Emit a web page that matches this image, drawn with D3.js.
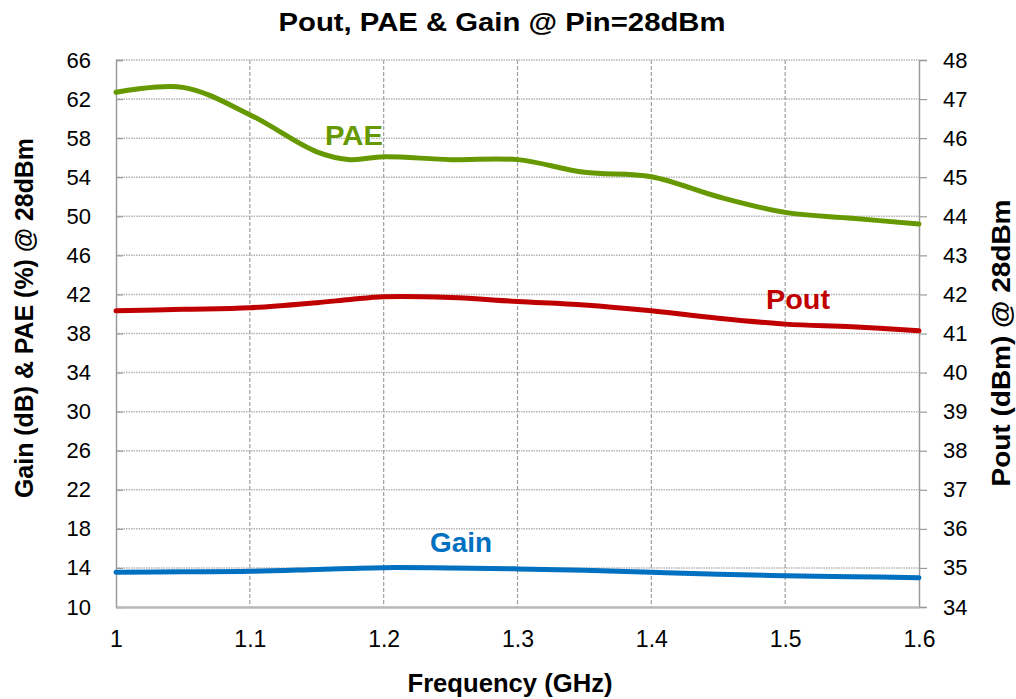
<!DOCTYPE html>
<html>
<head>
<meta charset="utf-8">
<style>
  body { margin: 0; background: #fff; }
  text { font-family: "Liberation Sans", Arial, Helvetica, sans-serif; }
</style>
<script src="https://cdnjs.cloudflare.com/ajax/libs/d3/7.8.5/d3.min.js"></script>
</head>
<body>
<svg id="chart" width="1016" height="699"></svg>
<script>
// frequency points (GHz)
let freq = [1.0, 1.05, 1.1, 1.15, 1.175, 1.2, 1.25, 1.3, 1.35, 1.4, 1.45, 1.5, 1.55, 1.6];
// PAE (%) - left axis
let pae  = [62.7, 63.2, 60.4, 56.6, 55.8, 56.1, 55.8, 55.8, 54.5, 54.05, 52.0, 50.4, 49.8, 49.2];
// Gain (dB) - left axis
let gain = [13.55, 13.6, 13.65, 13.85, 13.95, 14.03, 14.0, 13.9, 13.75, 13.55, 13.35, 13.2, 13.1, 13.0];
// Pout (dBm) - right axis
let pout = [41.58, 41.62, 41.66, 41.79, 41.87, 41.94, 41.92, 41.82, 41.73, 41.58, 41.39, 41.24, 41.17, 41.07];

let xTicks = [1.0, 1.1, 1.2, 1.3, 1.4, 1.5, 1.6];
let leftTicks = d3.range(10, 67, 4);
let rightTicks = d3.range(34, 49, 1);

let x0 = 116, x1 = 919, yTop = 60, yBot = 607;

let svg = d3.select("#chart");

let x = d3.scaleLinear().domain([1.0, 1.6]).range([x0, x1]);
let yL = d3.scaleLinear().domain([10, 66]).range([yBot, yTop]);
let yR = d3.scaleLinear().domain([34, 48]).range([yBot, yTop]);

// grid
svg.append("g").selectAll("line")
  .data(leftTicks.filter(d => d > 10))
  .join("line")
    .attr("x1", x0).attr("x2", x1)
    .attr("y1", d => yL(d)).attr("y2", d => yL(d))
    .attr("stroke", "#b4b4b4")
    .attr("stroke-width", 1.5)
    .attr("stroke-dasharray", "1.5,1");

svg.append("g").selectAll("line")
  .data(xTicks.filter(d => d > 1.0 && d < 1.6))
  .join("line")
    .attr("x1", d => x(d)).attr("x2", d => x(d))
    .attr("y1", yTop).attr("y2", yBot)
    .attr("stroke", "#a0a0a0")
    .attr("stroke-width", 1.2)
    .attr("stroke-dasharray", "4,2");

// axes
let gl = svg.append("g").attr("transform", `translate(${x0},0)`)
  .call(d3.axisLeft(yL).tickValues(leftTicks).tickSize(-7).tickPadding(25));
let gr = svg.append("g").attr("transform", `translate(${x1},0)`)
  .call(d3.axisRight(yR).tickValues(rightTicks).tickSize(8).tickPadding(16));
let gb = svg.append("g").attr("transform", `translate(0,${yBot})`)
  .call(d3.axisBottom(x).tickValues(xTicks).tickSize(0).tickFormat(d3.format("")));

[gl, gr, gb].forEach(g => {
  g.select(".domain").attr("stroke", "#9a9a9a").attr("stroke-width", 1.5);
  g.selectAll(".tick line").attr("stroke", "#9a9a9a").attr("stroke-width", 1.2);
  g.selectAll("text").attr("fill", "#000").style("font-size", "22px");
});
gb.select(".domain").attr("stroke", "#b8b8b8").attr("stroke-width", 2.5);
gb.selectAll("text").attr("dy", null).attr("y", 40).style("font-size", "23px");

// series
let line = (ys, vals) => d3.line()
  .x((d, i) => x(freq[i]))
  .y(d => ys(d))
  .curve(d3.curveCatmullRom.alpha(0.5))(vals);

let series = [
  { vals: pae,  scale: yL, color: "#669900" },
  { vals: pout, scale: yR, color: "#c00000" },
  { vals: gain, scale: yL, color: "#0070c0" }
];
series.forEach(s => {
  svg.append("path")
    .attr("d", line(s.scale, s.vals))
    .attr("fill", "none")
    .attr("stroke", s.color)
    .attr("stroke-width", 5)
    .attr("stroke-linecap", "round");
});

// series labels
let labels = [
  { text: "PAE",  x: 354, y: 145, color: "#669900", len: 58 },
  { text: "Pout", x: 798, y: 309, color: "#c00000", len: 64 },
  { text: "Gain", x: 461, y: 552, color: "#0070c0", len: 62 }
];
svg.append("g").selectAll("text")
  .data(labels)
  .join("text")
    .attr("x", d => d.x).attr("y", d => d.y)
    .attr("text-anchor", "middle")
    .attr("fill", d => d.color)
    .attr("font-weight", "bold")
    .attr("textLength", d => d.len)
    .attr("lengthAdjust", "spacingAndGlyphs")
    .style("font-size", "28px")
    .text(d => d.text);

// titles
svg.append("text")
  .attr("x", 502).attr("y", 31)
  .attr("text-anchor", "middle")
  .attr("font-weight", "bold")
  .attr("textLength", 447).attr("lengthAdjust", "spacingAndGlyphs")
  .style("font-size", "26px")
  .text("Pout, PAE & Gain @ Pin=28dBm");

svg.append("text")
  .attr("x", 510).attr("y", 692)
  .attr("text-anchor", "middle")
  .attr("font-weight", "bold")
  .attr("textLength", 205).attr("lengthAdjust", "spacingAndGlyphs")
  .style("font-size", "25px")
  .text("Frequency (GHz)");

svg.append("text")
  .attr("transform", "translate(33,318) rotate(-90)")
  .attr("text-anchor", "middle")
  .attr("font-weight", "bold")
  .attr("textLength", 360).attr("lengthAdjust", "spacingAndGlyphs")
  .style("font-size", "25px")
  .text("Gain (dB) & PAE (%) @ 28dBm");

svg.append("text")
  .attr("transform", "translate(1010,343) rotate(-90)")
  .attr("text-anchor", "middle")
  .attr("font-weight", "bold")
  .attr("textLength", 287).attr("lengthAdjust", "spacingAndGlyphs")
  .style("font-size", "25px")
  .text("Pout (dBm) @ 28dBm");
</script>
</body>
</html>
